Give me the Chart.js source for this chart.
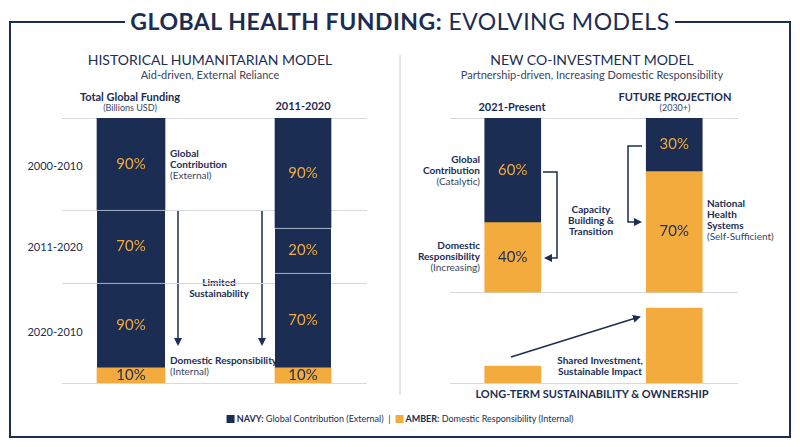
<!DOCTYPE html>
<html>
<head>
<meta charset="utf-8">
<script src="https://cdn.jsdelivr.net/npm/chart.js@4/dist/chart.umd.min.js"></script>
<style>
  body { margin: 0; background: #fff; font-family: Lato, "Open Sans", sans-serif; color: #1b2d52; }
  #wrap { position: relative; width: 800px; height: 447px; overflow: hidden; }
  .t { position: absolute; white-space: nowrap; line-height: 1.1; }
  .c { transform: translateX(-50%); text-align: center; }
  .r { transform: translateX(-100%); text-align: right; }
  .b { font-weight: 700; }
  .s { color: #3a4560; }
  canvas { position: absolute; }
</style>
</head>
<body>
<div id="wrap">
  <svg width="800" height="447" style="position:absolute;left:0;top:0">
    <defs>
      <marker id="ah" markerWidth="8" markerHeight="8" refX="6" refY="4" orient="auto" markerUnits="userSpaceOnUse">
        <path d="M0,0 L8,4 L0,8 z" fill="#1b2d52"/>
      </marker>
    </defs>
    <rect x="10" y="22" width="780" height="415" fill="none" stroke="#1b2d52" stroke-width="2"/>
    <rect x="125" y="8" width="550" height="28" fill="#fff"/>
    <line x1="400" y1="55" x2="400" y2="395" stroke="#c8ccd4" stroke-width="1"/>
    <line x1="178" y1="210" x2="178" y2="344" stroke="#1b2d52" stroke-width="1.5" marker-end="url(#ah)"/>
    <line x1="262" y1="210" x2="262" y2="344" stroke="#1b2d52" stroke-width="1.5" marker-end="url(#ah)"/>
    <polyline points="543,172 557,172 557,258 546,258" fill="none" stroke="#1b2d52" stroke-width="1.5" marker-end="url(#ah)"/>
    <polyline points="642,146 628,146 628,222 640,222" fill="none" stroke="#1b2d52" stroke-width="1.5" marker-end="url(#ah)"/>
    <line x1="511" y1="357" x2="639" y2="317" stroke="#1b2d52" stroke-width="1.5" marker-end="url(#ah)"/>
  </svg>

  <div class="t c" style="left:400px;top:9px;font-size:23px;letter-spacing:0.5px">
    <span class="b">GLOBAL HEALTH FUNDING:</span> EVOLVING MODELS</div>

  <div class="t c" style="left:210px;top:52px;font-size:14px">HISTORICAL HUMANITARIAN MODEL</div>
  <div class="t c s" style="left:210px;top:69px;font-size:11px">Aid-driven, External Reliance</div>
  <div class="t c" style="left:592px;top:52px;font-size:14px">NEW CO-INVESTMENT MODEL</div>
  <div class="t c s" style="left:592px;top:69px;font-size:11px">Partnership-driven, Increasing Domestic Responsibility</div>

  <div class="t c b" style="left:130px;top:91px;font-size:11px">Total Global Funding</div>
  <div class="t c s" style="left:130px;top:103px;font-size:9px">(Billions USD)</div>
  <div class="t c b" style="left:303px;top:100px;font-size:11px">2011-2020</div>
  <div class="t c b" style="left:512px;top:101px;font-size:11px">2021-Present</div>
  <div class="t c b" style="left:675px;top:91px;font-size:11px">FUTURE PROJECTION</div>
  <div class="t c s" style="left:675px;top:103px;font-size:9px">(2030+)</div>

  <div class="t c" style="left:55px;top:160px;font-size:11px">2000-2010</div>
  <div class="t c" style="left:55px;top:241px;font-size:11px">2011-2020</div>
  <div class="t c" style="left:55px;top:326px;font-size:11px">2020-2010</div>

  <div class="t b" style="left:170px;top:148px;font-size:10px">Global<br>Contribution<br><span class="s" style="font-weight:400">(External)</span></div>
  <div class="t c b" style="left:219px;top:277px;font-size:10px">Limited<br>Sustainability</div>
  <div class="t b" style="left:170px;top:355px;font-size:10px">Domestic Responsibility<br><span class="s" style="font-weight:400">(Internal)</span></div>

  <div class="t r b" style="left:480px;top:154px;font-size:10px">Global<br>Contribution<br><span class="s" style="font-weight:400">(Catalytic)</span></div>
  <div class="t r b" style="left:480px;top:240px;font-size:10px">Domestic<br>Responsibility<br><span class="s" style="font-weight:400">(Increasing)</span></div>
  <div class="t c b" style="left:591px;top:204px;font-size:10px">Capacity<br>Building &amp;<br>Transition</div>
  <div class="t b" style="left:707px;top:198px;font-size:10px">National<br>Health<br>Systems<br><span class="s" style="font-weight:400">(Self-Sufficient)</span></div>
  <div class="t c b" style="left:600px;top:355px;font-size:10px">Shared Investment,<br>Sustainable Impact</div>
  <div class="t c b" style="left:592px;top:388px;font-size:11px">LONG-TERM SUSTAINABILITY &amp; OWNERSHIP</div>

  <div class="t c" style="left:400px;top:414px;font-size:9px">
    <span style="display:inline-block;width:8px;height:8px;background:#1b2d52;vertical-align:-1px"></span>
    <b>NAVY:</b> Global Contribution (External) &nbsp;|&nbsp;
    <span style="display:inline-block;width:8px;height:8px;background:#f2ab3c;vertical-align:-1px"></span>
    <b>AMBER:</b> Domestic Responsibility (Internal)</div>

  <canvas id="histChart" style="left:45px;top:116px;width:344px;height:269px"></canvas>
  <canvas id="coChart" style="left:432px;top:116px;width:323px;height:269px"></canvas>
</div>

<script>
// ======================
// DATA (share of column height, 0-100)
// ======================
const histColumns = ["Total Global Funding", "2011-2020"];
const histCol1Ranges = [[0, 5.7], [5.7, 37.7], [37.7, 65.3], [65.3, 100]];
const histCol1Labels = ["10%", "90%", "70%", "90%"];
const histCol1Kinds = ["amber", "navy", "navy", "navy"];
const histCol2Ranges = [[0, 5.7], [5.7, 41.5], [41.5, 58.5], [58.5, 100]];
const histCol2Labels = ["10%", "70%", "20%", "90%"];
const histCol2Kinds = ["amber", "navy", "navy", "navy"];
const histGrid = [0, 37.7, 65.3, 100];

const coColumns = ["2021-Present", "FUTURE PROJECTION"];
const coNavyRanges = [[60.8, 100], [80, 100]];
const coNavyLabels = ["60%", "30%"];
const coAmberRanges = [[34.3, 60.8], [34.3, 80]];
const coAmberLabels = ["40%", "70%"];
const coImpactRanges = [[0, 6.4], [0, 28.3]];
const coGrid = [0, 34.3, 100];

const NAVY = "#1b2d52";
const AMBER = "#f2ab3c";

// ======================
// PLUGINS
// ======================
const gridPlugin = {
    id: "grid",
    beforeDatasetsDraw(chart, args, opts) {
        const { ctx, scales } = chart;
        ctx.save();
        ctx.strokeStyle = "#d5d9e0";
        ctx.lineWidth = 1;
        opts.values.forEach(v => {
            const y = Math.round(scales.y.getPixelForValue(v)) + 0.5;
            ctx.beginPath();
            ctx.moveTo(opts.left, y);
            ctx.lineTo(chart.width - opts.right, y);
            ctx.stroke();
        });
        ctx.restore();
    }
};

const labelPlugin = {
    id: "segLabels",
    afterDatasetsDraw(chart) {
        const { ctx } = chart;
        ctx.save();
        ctx.font = "15px Lato, sans-serif";
        ctx.textAlign = "center";
        ctx.textBaseline = "middle";
        chart.data.datasets.forEach((ds, di) => {
            if (!ds.segLabels) return;
            chart.getDatasetMeta(di).data.forEach((bar, i) => {
                const txt = ds.segLabels[i];
                if (!txt) return;
                ctx.fillStyle = ds.backgroundColor === NAVY ? AMBER : NAVY;
                ctx.fillText(txt, bar.x, (bar.y + bar.base) / 2);
            });
        });
        ctx.restore();
    }
};

function baseOptions(gridValues, left, right) {
    return {
        responsive: false,
        animation: false,
        layout: { padding: { top: 2, bottom: 2 } },
        scales: {
            x: { display: false, stacked: false },
            y: { display: false, min: 0, max: 100 }
        },
        plugins: {
            legend: { display: false },
            tooltip: { enabled: false },
            grid: { values: gridValues, left: left, right: right }
        }
    };
}

function segDataset(range, label, kind, colIndex, thickness) {
    const data = [null, null];
    const labels = [null, null];
    data[colIndex] = range;
    labels[colIndex] = label;
    return {
        data: data,
        segLabels: labels,
        backgroundColor: kind === "navy" ? NAVY : AMBER,
        borderColor: "#c9d3e0",
        borderWidth: kind === "navy" ? { top: 1 } : 0,
        borderSkipped: false,
        barThickness: thickness,
        grouped: false
    };
}

// ======================
// HISTORICAL CHART
// ======================
function createHistChart() {
    const datasets = [];
    histCol1Ranges.forEach((r, i) => datasets.push(segDataset(r, histCol1Labels[i], histCol1Kinds[i], 0, 68)));
    histCol2Ranges.forEach((r, i) => datasets.push(segDataset(r, histCol2Labels[i], histCol2Kinds[i], 1, 56)));
    // top segments have no separator line
    datasets[3].borderWidth = 0;
    datasets[7].borderWidth = 0;

    const canvas = document.getElementById("histChart");
    canvas.width = 344; canvas.height = 269;
    new Chart(canvas, {
        type: "bar",
        data: { labels: histColumns, datasets: datasets },
        options: baseOptions(histGrid, 17, 22),
        plugins: [gridPlugin, labelPlugin]
    });
}

// ======================
// CO-INVESTMENT CHART
// ======================
function createCoChart() {
    const mk = (data, labels, color) => ({
        data: data,
        segLabels: labels,
        backgroundColor: color,
        borderWidth: 0,
        barThickness: 56,
        grouped: false
    });
    const canvas = document.getElementById("coChart");
    canvas.width = 323; canvas.height = 269;
    new Chart(canvas, {
        type: "bar",
        data: {
            labels: coColumns,
            datasets: [
                mk(coNavyRanges, coNavyLabels, NAVY),
                mk(coAmberRanges, coAmberLabels, AMBER),
                mk(coImpactRanges, null, AMBER)
            ]
        },
        options: baseOptions(coGrid, 18, 17),
        plugins: [gridPlugin, labelPlugin]
    });
}

createHistChart();
createCoChart();
</script>
</body>
</html>
